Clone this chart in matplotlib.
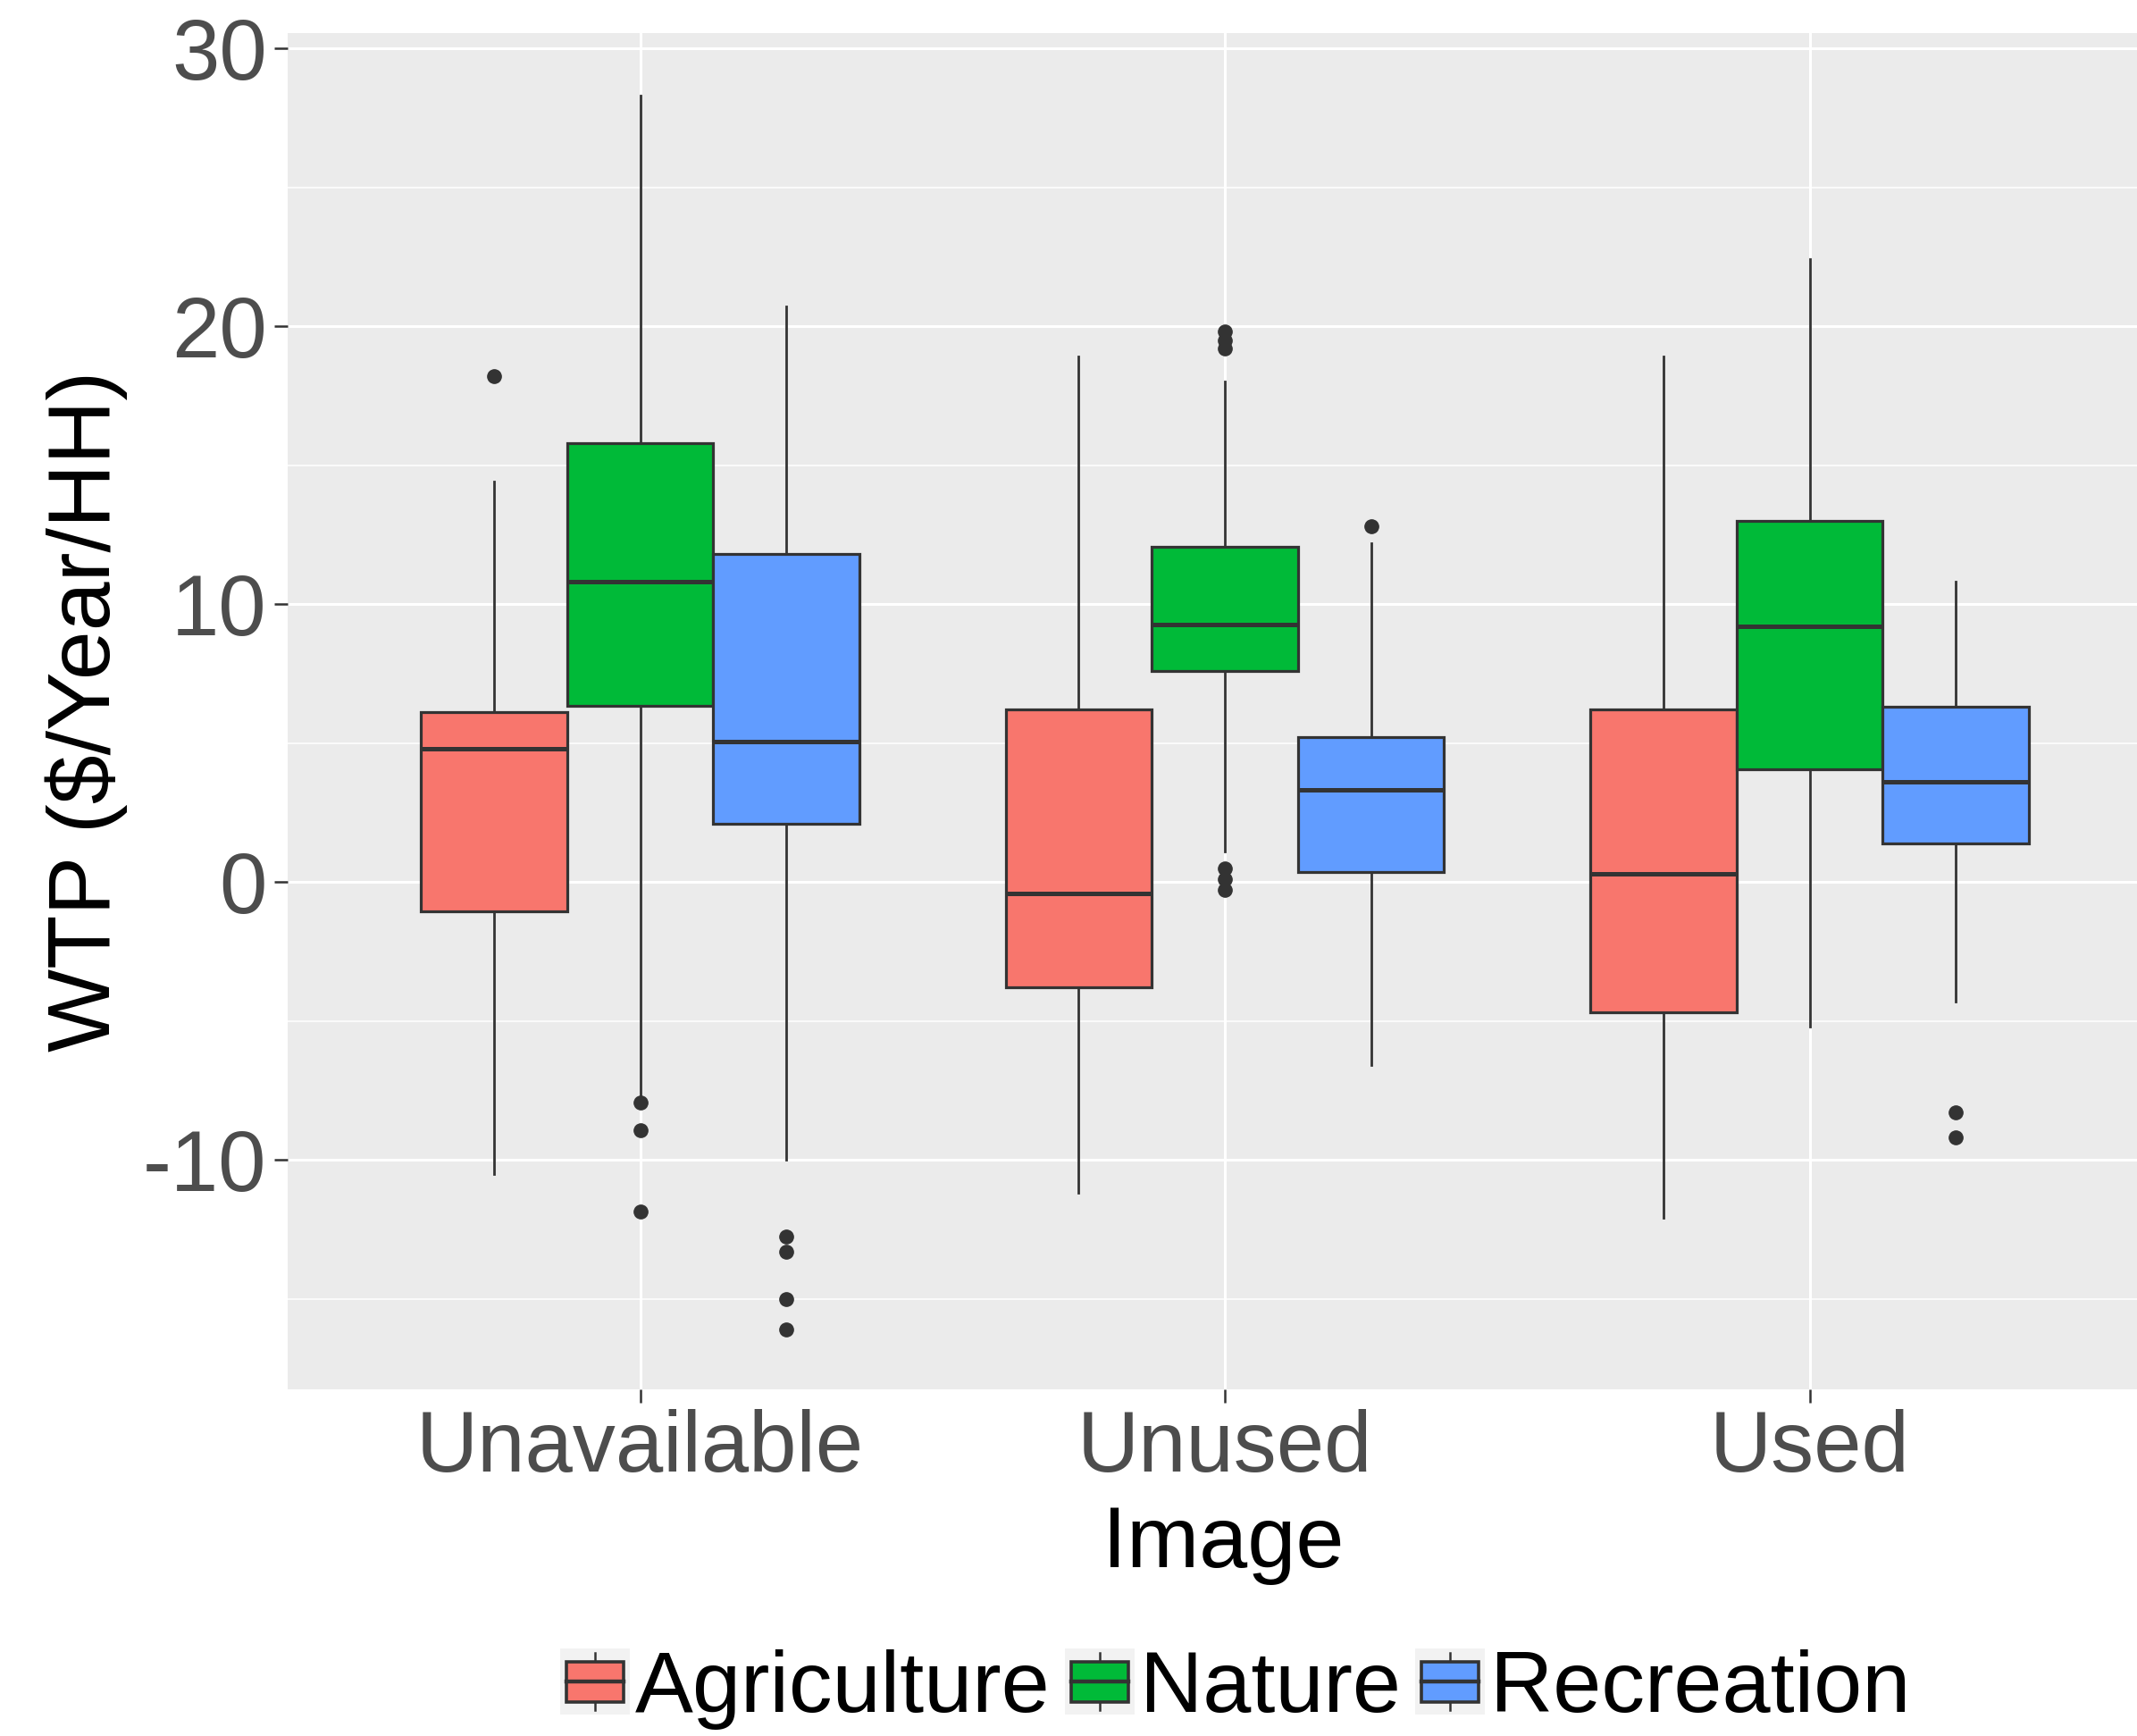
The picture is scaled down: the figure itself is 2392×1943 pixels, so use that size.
import matplotlib
matplotlib.use("Agg")
import matplotlib.pyplot as plt
from matplotlib.patches import Rectangle, Patch
from matplotlib.lines import Line2D
from matplotlib.legend_handler import HandlerBase
from matplotlib.ticker import MultipleLocator

plt.rcParams['font.family'] = ['Liberation Sans', 'DejaVu Sans']
plt.rcParams['axes.unicode_minus'] = False

# values, rows = land use, columns = image
images = ['Unavailable', 'Unused', 'Used']
land_uses = ['Agriculture', 'Nature', 'Recreation']
colors = ['#F8766D', '#00BA38', '#619CFF']

whis_lo = [[-10.5, -11.2, -12.1],
           [-7.8, 1.1, -5.2],
           [-10.0, -6.6, -4.3]]
q1 = [[-1.05, -3.8, -4.7],
      [6.35, 7.6, 4.05],
      [2.1, 0.35, 1.4]]
medians = [[4.8, -0.4, 0.3],
           [10.8, 9.25, 9.2],
           [5.05, 3.3, 3.6]]
q3 = [[6.1, 6.2, 6.2],
      [15.8, 12.05, 13.0],
      [11.8, 5.2, 6.3]]
whis_hi = [[14.4, 18.9, 18.9],
           [28.3, 18.0, 22.4],
           [20.7, 12.2, 10.8]]
outliers = [[[18.2], [], []],
            [[-7.95, -8.95, -11.85], [19.8, 19.5, 19.2, 0.5, 0.1, -0.3], []],
            [[-12.75, -13.3, -15.0, -16.1], [12.8], [-8.3, -9.2]]]

line_col = '#333333'

class BoxKey(HandlerBase):
    # ggplot style legend key: grey square with a tiny boxplot
    def create_artists(self, legend, orig_handle, xdescent, ydescent,
                       width, height, fontsize, trans):
        x0 = -xdescent
        y0 = -ydescent
        bg = Rectangle((x0, y0), width, height, fc='#F2F2F2', ec='none',
                       transform=trans)
        bw = width * 0.82
        bh = height * 0.6
        bx = x0 + (width - bw) / 2
        by = y0 + (height - bh) / 2
        cx = x0 + width / 2
        lo = Line2D([cx, cx], [y0 + height * 0.07, by], color=line_col,
                    lw=1.8, transform=trans)
        hi = Line2D([cx, cx], [by + bh, y0 + height * 0.93], color=line_col,
                    lw=1.8, transform=trans)
        box = Rectangle((bx, by), bw, bh, fc=orig_handle.get_facecolor(),
                        ec=line_col, lw=2.6, transform=trans)
        med = Line2D([bx, bx + bw], [by + bh / 2] * 2, color=line_col,
                     lw=3.2, transform=trans)
        return [bg, lo, hi, box, med]


fig = plt.figure(figsize=(23.92, 19.43), dpi=100)
ax = fig.add_axes([0.1346, 0.1997, 0.8654, 0.7813])
ax.set_facecolor('#EBEBEB')

offsets = [-0.25, 0.0, 0.25]
for k, lu in enumerate(land_uses):
    stats = []
    for i in range(len(images)):
        stats.append(dict(med=medians[k][i], q1=q1[k][i], q3=q3[k][i],
                          whislo=whis_lo[k][i], whishi=whis_hi[k][i],
                          fliers=outliers[k][i], label=lu))
    pos = [i + 1 + offsets[k] for i in range(len(images))]
    ax.bxp(stats, positions=pos, widths=0.25, patch_artist=True,
           showcaps=False, manage_ticks=False,
           boxprops=dict(facecolor=colors[k], edgecolor=line_col, linewidth=2.3),
           medianprops=dict(color=line_col, linewidth=3.6),
           whiskerprops=dict(color=line_col, linewidth=2.0),
           flierprops=dict(marker='o', markerfacecolor=line_col,
                           markeredgecolor=line_col, markersize=11),
           zorder=3)

ax.set_xlim(0.397, 3.56)
ax.set_ylim(-18.26, 30.55)
ax.set_xticks([1, 2, 3])
ax.set_xticklabels(images)
ax.yaxis.set_major_locator(MultipleLocator(10))
ax.yaxis.set_minor_locator(MultipleLocator(5))

ax.grid(which='major', color='white', linewidth=2.2)
ax.grid(which='minor', axis='y', color='white', linewidth=1.1)
ax.set_axisbelow(True)
for s in ax.spines.values():
    s.set_visible(False)

ax.tick_params(which='major', length=10.8, width=1.8, color=line_col,
               labelsize=69, labelcolor='#4D4D4D')
ax.tick_params(axis='y', pad=6)
ax.tick_params(axis='x', pad=5)
ax.tick_params(which='minor', length=0)

ax.set_xlabel('Image', fontsize=70, color='black', va='top')
ax.xaxis.set_label_coords(0.506, -0.085)
ax.set_ylabel('WTP ($/Year/HH)', fontsize=71, color='black', va='center')
ax.yaxis.set_label_coords(-0.109, 0.5)

handles = [Patch(facecolor=c) for c in colors]
fig.legend(handles, land_uses, loc='center', bbox_to_anchor=(0.578, 0.027),
           ncol=3, frameon=False, fontsize=70, handlelength=0.8,
           handleheight=0.8, handletextpad=0.06, columnspacing=0.17,
           borderpad=0, borderaxespad=0, handler_map={Patch: BoxKey()})

fig.savefig('out.png', dpi=100)
